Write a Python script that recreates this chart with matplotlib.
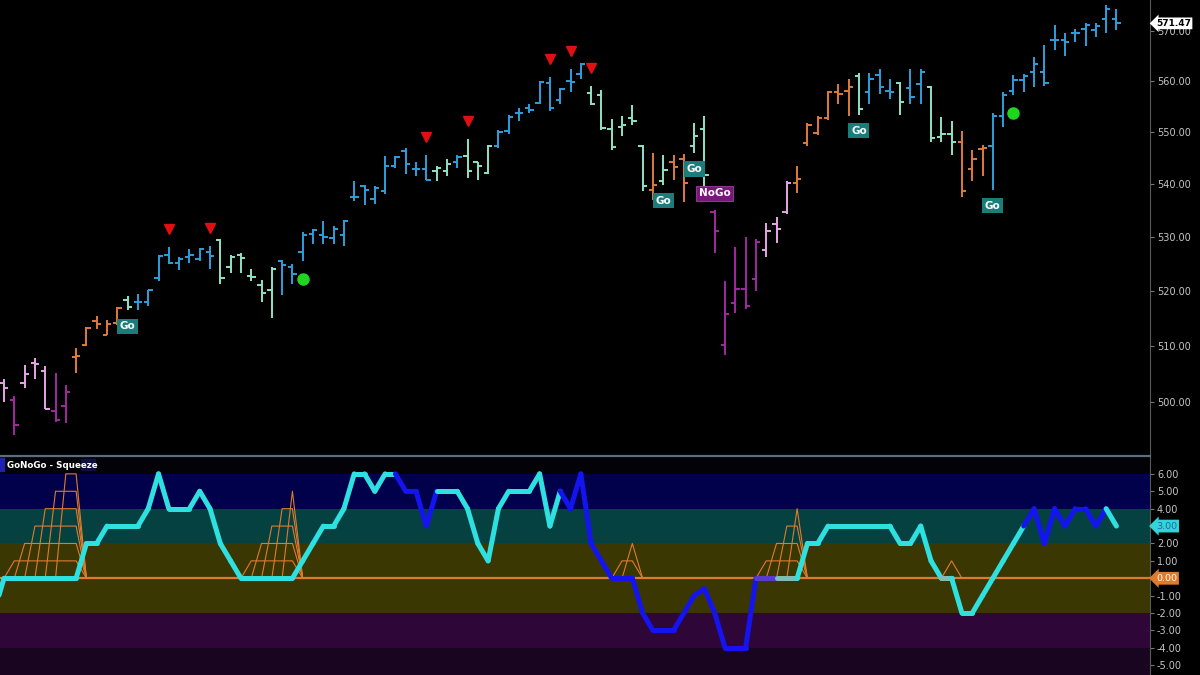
import numpy as np
import matplotlib
matplotlib.use("Agg")
import matplotlib.pyplot as plt
from matplotlib.collections import LineCollection
from matplotlib.lines import Line2D
from matplotlib.patches import Rectangle
from matplotlib.ticker import FixedLocator, FormatStrFormatter, NullLocator
from matplotlib.transforms import offset_copy, blended_transform_factory

# daily OHLC, one row of ten bars per line
opens = [
    503.4, 500.4, 503.3, 506.9, 505.4, 498.4, 499.3, 508.0, 510.2, 514.4,
    512.0, 514.1, 518.3, 518.0, 518.0, 522.3, 526.6, 525.2, 526.3, 525.8,
    527.1, 529.4, 524.4, 526.6, 522.8, 521.0, 520.2, 525.4, 524.3, 527.1,
    530.6, 530.3, 529.7, 530.3, 537.5, 539.6, 537.2, 538.6, 543.5, 546.3,
    542.8, 542.9, 542.5, 542.5, 544.1, 545.4, 544.1, 542.0, 547.2, 550.1,
    553.6, 554.7, 555.6, 559.6, 556.2, 560.0, 561.3, 557.5, 557.2, 550.5,
    551.0, 552.7, 547.2, 538.8, 540.5, 544.2, 544.7, 547.2, 550.5, 534.7,
    510.2, 517.7, 520.4, 522.2, 527.6, 532.3, 534.6, 540.2, 547.9, 549.7,
    552.7, 557.7, 558.0, 560.9, 557.7, 561.1, 558.0, 559.5, 558.5, 559.3,
    558.7, 548.9, 549.5, 548.1, 542.9, 546.7, 547.2, 553.0, 558.0, 560.1,
    561.8, 561.8, 568.1, 568.2, 569.5, 570.4, 570.1, 572.3, 572.4,
]
highs = [
    504.1, 501.1, 506.6, 507.8, 506.4, 505.1, 503.0, 509.6, 513.4, 515.3,
    514.7, 517.0, 519.0, 519.4, 520.2, 526.6, 528.0, 526.3, 527.7, 527.9,
    528.3, 529.6, 526.6, 527.0, 524.0, 522.0, 524.3, 525.6, 525.0, 530.8,
    531.4, 532.9, 532.0, 533.1, 540.6, 539.8, 539.5, 545.3, 545.3, 546.8,
    544.1, 545.6, 543.5, 544.8, 545.6, 548.6, 544.2, 547.5, 550.3, 553.3,
    554.7, 555.5, 559.9, 560.8, 558.5, 562.4, 563.6, 559.0, 558.1, 552.5,
    553.1, 555.3, 547.5, 545.9, 545.5, 545.5, 545.7, 551.8, 553.0, 535.0,
    521.8, 528.0, 529.9, 529.6, 532.6, 533.8, 540.5, 543.5, 551.7, 553.1,
    558.0, 559.3, 560.3, 561.5, 561.5, 562.3, 560.3, 559.8, 562.3, 562.4,
    559.0, 552.9, 552.2, 550.1, 546.4, 547.5, 553.7, 557.8, 561.2, 561.4,
    564.8, 567.1, 571.1, 569.6, 570.4, 571.5, 571.5, 575.1, 574.4,
]
lows = [
    499.9, 494.2, 502.4, 504.1, 498.7, 496.5, 496.3, 505.2, 510.0, 513.0,
    511.9, 513.8, 516.4, 516.5, 517.2, 521.8, 525.0, 523.8, 525.2, 525.5,
    524.0, 521.2, 523.3, 523.3, 521.8, 518.0, 515.0, 519.2, 521.2, 525.4,
    528.7, 528.7, 528.7, 528.3, 536.8, 535.9, 536.2, 538.1, 543.1, 541.8,
    541.5, 540.8, 540.5, 541.5, 543.0, 541.1, 540.8, 541.8, 546.8, 549.5,
    552.2, 553.6, 555.4, 554.0, 555.5, 557.7, 560.3, 555.2, 550.4, 546.4,
    549.1, 551.4, 538.6, 537.0, 539.8, 540.8, 536.6, 545.9, 537.6, 526.9,
    508.3, 515.9, 516.6, 520.0, 526.3, 528.8, 534.3, 538.3, 547.2, 549.3,
    552.3, 555.4, 553.0, 553.3, 555.4, 557.4, 556.5, 553.3, 555.4, 555.4,
    548.1, 548.1, 545.6, 537.5, 540.6, 541.5, 538.9, 550.9, 557.2, 557.7,
    558.7, 559.0, 566.2, 564.9, 567.7, 567.0, 568.7, 569.6, 570.1,
]
closes = [
    502.4, 495.9, 505.0, 506.8, 498.7, 496.8, 501.8, 508.1, 513.2, 514.0,
    514.0, 516.8, 517.0, 517.9, 520.1, 526.4, 525.2, 525.8, 526.6, 527.7,
    526.4, 522.3, 526.3, 526.0, 522.5, 519.5, 524.0, 524.7, 523.1, 530.4,
    531.2, 530.0, 531.5, 532.9, 537.5, 538.8, 539.2, 543.5, 545.1, 543.7,
    542.8, 540.8, 543.1, 543.8, 545.1, 542.5, 543.5, 547.2, 549.9, 552.9,
    553.6, 554.3, 559.7, 554.7, 558.3, 559.7, 563.3, 555.4, 550.7, 547.0,
    551.4, 552.2, 539.5, 539.8, 542.7, 543.2, 540.1, 549.1, 541.6, 531.1,
    515.7, 520.4, 517.2, 529.0, 531.0, 531.4, 540.2, 541.0, 551.4, 552.7,
    557.7, 557.4, 558.7, 554.4, 560.3, 558.7, 557.7, 555.9, 556.8, 561.7,
    548.8, 549.5, 548.0, 538.6, 544.7, 546.9, 553.0, 557.2, 560.1, 561.0,
    563.4, 559.5, 568.1, 567.7, 569.6, 571.1, 570.9, 574.4, 571.47,
]

# GoNoGo trend colour of each bar: B strong go, M weak go, O amber, P weak nogo, V strong nogo
bar_trend = ("PVPPPVV" + "OOOOO" + "M" + "B" * 8 + "M" * 6 + "B" * 15 + "MM" + "B"
             + "MMM" + "B" * 9 + "M" * 6 + "OMOOMM" + "V" * 5 + "PPP" + "O" * 6
             + "M" + "BBB" + "M" + "BB" + "MMM" + "OOO" + "B" * 13)

top_marks = [16, 20, 41, 45, 53, 55, 57]   # red triangles above the bar
dot_marks = [29, 98]                       # green dots below the bar
go_marks = [12, 64, 67, 83, 96]
nogo_marks = [69]

# oscillator, starting one bar before the first visible bar
osc_values = [
    -2,
    0, 0, 0, 0, 0, 0, 0, 0, 2, 2,
    3, 3, 3, 3, 4, 6, 4, 4, 4, 5,
    4, 2, 1, 0, 0, 0, 0, 0, 0, 1,
    2, 3, 3, 4, 6, 6, 5, 6, 6, 5,
    5, 3, 5, 5, 5, 4, 2, 1, 4, 5,
    5, 5, 6, 3, 5, 4, 6, 2, 1, 0,
    0, 0, -2, -3, -3, -3, -2, -1, -0.6, -2,
    -4, -4, -4, 0, 0, 0, 0, 0, 2, 2,
    3, 3, 3, 3, 3, 3, 3, 2, 2, 3,
    1, 0, 0, -2, -2, -1, 0, 1, 2, 3,
    4, 2, 4, 3, 4, 4, 3, 4, 3,
]
# colour of each oscillator segment: c go, b nogo, p / g flat on the zero line
osc_trend = ("c" * 39 + "b" * 4 + "c" * 12 + "b" * 19 + "pp" + "gg" + "c" * 14
             + "g" + "c" * 7 + "b" * 8 + "c")

squeeze_bars = [1, 2, 3, 4, 5, 6, 7, 24, 25, 26, 27, 28, 60, 61, 74, 75, 76, 77, 92]
squeeze_levels = [1, 2, 3, 4, 5, 6, 6, 1, 2, 3, 4, 5, 1, 2, 1, 2, 3, 4, 1]

price_ticks = [500, 510, 520, 530, 540, 550, 560, 570]
osc_ticks = [-5, -4, -3, -2, -1, 0, 1, 2, 3, 4, 5, 6]

trend_colors = {"B": "#2e9fdc", "M": "#8fe3c6", "O": "#e07b39",
                "P": "#e8a6e8", "V": "#a22aa2"}
osc_colors = {"c": "#2fe0e0", "b": "#1414f0", "p": "#5a3ccc", "g": "#7fbcb4"}
orange = "#e07b2c"
label_color = "#c4c4c4"

n = len(closes)
x = np.arange(n)
xlim = (-0.39, 111.26)

fig = plt.figure(figsize=(12, 6.75), dpi=100, facecolor="black")
ax = fig.add_axes([0, 1 - 455 / 675, 1150 / 1200, 455 / 675])
ax2 = fig.add_axes([0, 0, 1150 / 1200, 218 / 675])

for a in (ax, ax2):
    a.set_facecolor("black")
    a.set_xlim(*xlim)
    a.set_xticks([])
    for side in ("left", "top", "bottom"):
        a.spines[side].set_visible(False)
    a.spines["right"].set_color("#5a5a5a")
    a.yaxis.tick_right()
    a.tick_params(axis="y", colors="#777777", labelcolor=label_color,
                  labelsize=7, length=3, pad=2)

# ---- price bars ----
ax.set_yscale("log")
ax.set_ylim(490.7, 576.2)
ax.yaxis.set_major_locator(FixedLocator(price_ticks))
ax.yaxis.set_minor_locator(NullLocator())
ax.yaxis.set_major_formatter(FormatStrFormatter("%.2f"))

colors = [trend_colors[c] for c in bar_trend]
ax.vlines(x, lows, highs, colors=colors, lw=1.4)
ax.hlines(opens, x - 0.42, x, colors=colors, lw=1.4)
ax.hlines(closes, x, x + 0.42, colors=colors, lw=1.4)

up = offset_copy(ax.transData, fig=fig, x=0, y=18, units="dots")
down = offset_copy(ax.transData, fig=fig, x=0, y=-18, units="dots")
ax.plot(top_marks, [highs[i] for i in top_marks], "v", color="#e01010",
        ms=7.5, transform=up, zorder=5)
ax.plot(dot_marks, [lows[i] for i in dot_marks], "o", color="#1fd61f",
        ms=8, transform=down, zorder=5)

for i in go_marks:
    ax.annotate("Go", (i, lows[i]), xytext=(0, -16), textcoords="offset pixels",
                ha="center", va="center", color="white", fontsize=7.5,
                fontweight="bold", zorder=6,
                bbox=dict(boxstyle="square,pad=0.25", fc="#1a7d7a", ec="none"))
for i in nogo_marks:
    ax.annotate("NoGo", (i, highs[i]), xytext=(0, 17), textcoords="offset pixels",
                ha="center", va="center", color="white", fontsize=7.5,
                fontweight="bold", zorder=6,
                bbox=dict(boxstyle="square,pad=0.25", fc="#7a177a", ec="#a040a0",
                          lw=0.6))

right_price = blended_transform_factory(ax.transAxes, ax.transData)
ax.annotate(f"{closes[-1]:.2f}", (1, closes[-1]), xycoords=right_price,
            xytext=(6, 0), textcoords="offset pixels", ha="left", va="center",
            fontsize=6.5, fontweight="bold", color="black", zorder=10,
            annotation_clip=False,
            bbox=dict(boxstyle="larrow,pad=0.15", fc="white", ec="none"))

# ---- oscillator panel ----
ax2.set_ylim(-5.56, 6.97)
ax2.yaxis.set_major_locator(FixedLocator(osc_ticks))
ax2.yaxis.set_major_formatter(FormatStrFormatter("%.2f"))

bands = [(6, 8, "#020207"), (4, 6, "#00004b"), (2, 4, "#054141"),
         (-2, 2, "#3b3703"), (-4, -2, "#2e0637"), (-7, -4, "#1a0520")]
for lo, hi, c in bands:
    ax2.axhspan(lo, hi, color=c, lw=0, zorder=0)

sq = np.zeros(n)
sq[squeeze_bars] = squeeze_levels
for k in range(1, 7):
    level = np.where(sq >= k, k, 0)
    if level.any():
        ax2.plot(x, level, color=orange, lw=0.8, zorder=2)

ax2.axhline(0, color=orange, lw=1.6, zorder=3)

xo = np.arange(len(osc_values)) - 1
pts = np.column_stack([xo, osc_values])
segs = np.stack([pts[:-1], pts[1:]], axis=1)
lc = LineCollection(segs, colors=[osc_colors[c] for c in osc_trend],
                    linewidths=3.6, capstyle="round", joinstyle="round", zorder=4)
ax2.add_collection(lc)

right_osc = blended_transform_factory(ax2.transAxes, ax2.transData)
ax2.annotate(f"{osc_values[-1]:.2f}", (1, osc_values[-1]), xycoords=right_osc,
             xytext=(6, 0), textcoords="offset pixels", ha="left", va="center",
             fontsize=6.8, color="#1f6aa0", zorder=10, annotation_clip=False,
             bbox=dict(boxstyle="larrow,pad=0.2", fc="#33d4d8", ec="none"))
ax2.annotate("0.00", (1, 0), xycoords=right_osc,
             xytext=(6, 0), textcoords="offset pixels", ha="left", va="center",
             fontsize=6.8, color="white", zorder=10, annotation_clip=False,
             bbox=dict(boxstyle="larrow,pad=0.2", fc=orange, ec="none"))

# panel header
ax2.add_patch(Rectangle((0, 0.935), 0.0035, 0.06, transform=ax2.transAxes,
                        color="#2020b0", zorder=6))
ax2.add_patch(Rectangle((0.07, 0.94), 0.013, 0.05, transform=ax2.transAxes,
                        color="#10103e", zorder=6))
ax2.text(0.006, 0.962, "GoNoGo - Squeeze", transform=ax2.transAxes, color="white",
         fontsize=6.3, fontweight="bold", va="center", ha="left", zorder=7)

fig.add_artist(Line2D([0, 1150 / 1200], [1 - 456 / 675] * 2, color="#5e6c80", lw=1.6))

fig.savefig("out.png", dpi=100, facecolor="black")
